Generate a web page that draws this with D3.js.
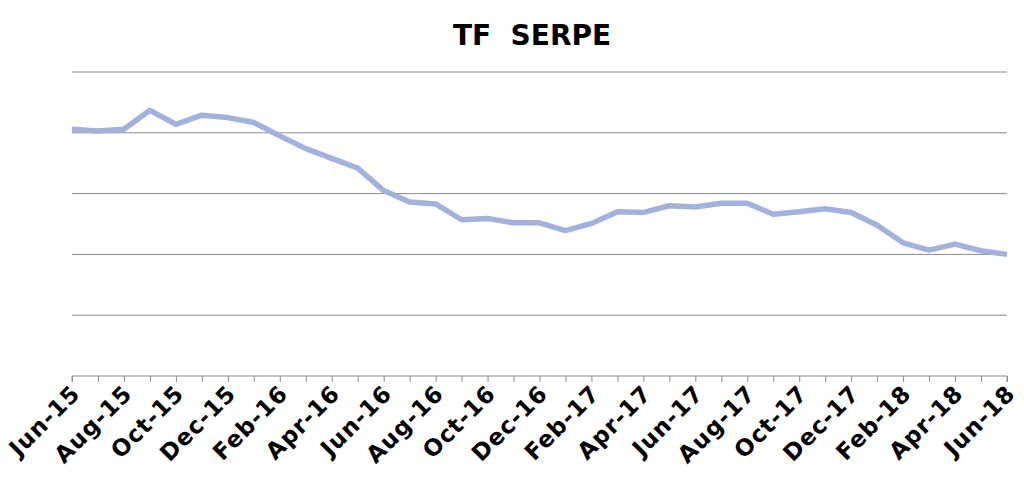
<!DOCTYPE html>
<html>
<head>
<meta charset="utf-8">
<script src="https://cdn.jsdelivr.net/npm/d3@7"></script>
<style>
  body { margin: 0; background: #fff; }
  svg { display: block; }
</style>
</head>
<body>
<svg id="chart" width="1024" height="486"></svg>
<script>
// Data
const months = ['Jun-15','Jul-15','Aug-15','Sep-15','Oct-15','Nov-15','Dec-15','Jan-16','Feb-16','Mar-16',
    'Apr-16','May-16','Jun-16','Jul-16','Aug-16','Sep-16','Oct-16','Nov-16','Dec-16','Jan-17',
    'Feb-17','Mar-17','Apr-17','May-17','Jun-17','Jul-17','Aug-17','Sep-17','Oct-17','Nov-17',
    'Dec-17','Jan-18','Feb-18','Mar-18','Apr-18','May-18','Jun-18'];
const values = [40.6, 40.3, 40.6, 43.7, 41.4, 42.9, 42.5, 41.7, 39.5, 37.4,
    35.8, 34.2, 30.5, 28.6, 28.3, 25.7, 25.9, 25.2, 25.2, 23.9,
    25.1, 27.0, 26.9, 28.0, 27.8, 28.4, 28.4, 26.6, 27.0, 27.5,
    26.9, 24.8, 21.9, 20.7, 21.7, 20.6, 20.0];
const yTicks = [0, 10, 20, 30, 40, 50];

const svg = d3.select('#chart');
const margin = { left: 72, right: 17, top: 72, bottom: 110 };
const width = 1024, height = 486;

const x = d3.scalePoint()
    .domain(months)
    .range([margin.left, width - margin.right]);

const y = d3.scaleLinear()
    .domain([0, 50])
    .range([height - margin.bottom, margin.top]);

// Title
svg.append('text')
    .attr('x', 532)
    .attr('y', 45)
    .attr('text-anchor', 'middle')
    .style('white-space', 'pre')
    .style('font-family', 'DejaVu Sans, Verdana, sans-serif')
    .style('font-weight', 'bold')
    .style('font-size', '28px')
    .text('TF  SERPE');

// Gridlines
svg.append('g')
    .selectAll('line')
    .data(yTicks.slice(1))
    .enter()
    .append('line')
    .attr('x1', margin.left)
    .attr('x2', width - margin.right)
    .attr('y1', d => y(d))
    .attr('y2', d => y(d))
    .style('stroke', '#8c8c8c')
    .style('stroke-width', 1);

// X axis
const xAxis = d3.axisBottom(x)
    .tickSize(6)
    .tickFormat((d, i) => i % 2 === 0 ? d : '');

const gx = svg.append('g')
    .attr('transform', `translate(0,${y(0)})`)
    .call(xAxis);

gx.select('.domain').attr('stroke', '#8c8c8c').attr('d', `M${margin.left},6V0H${width - margin.right}V6`);
gx.selectAll('.tick line').attr('stroke', '#8c8c8c');
gx.selectAll('.tick text')
    .attr('text-anchor', 'end')
    .attr('x', 0)
    .attr('y', 0)
    .attr('dy', 0)
    .attr('transform', 'translate(9,19) rotate(-45)')
    .style('font-family', 'DejaVu Sans, Verdana, sans-serif')
    .style('font-weight', 'bold')
    .style('font-size', '23px')
    .style('letter-spacing', '1px')
    .style('fill', '#000');

// Line
const line = d3.line()
    .x((d, i) => x(months[i]))
    .y(d => y(d));

svg.append('path')
    .datum(values)
    .attr('d', line)
    .style('fill', 'none')
    .style('stroke', '#a3b2dc')
    .style('stroke-width', 5.5)
    .style('stroke-linejoin', 'round');
</script>
</body>
</html>
